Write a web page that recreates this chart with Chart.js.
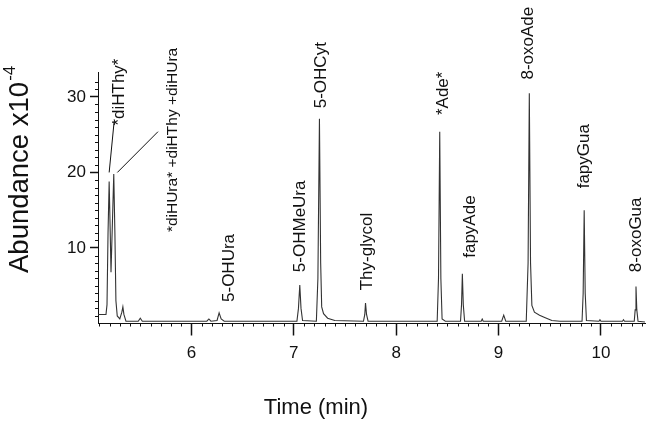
<!DOCTYPE html>
<html>
<head>
<meta charset="utf-8">
<script src="https://cdn.jsdelivr.net/npm/chart.js@4"></script>
<style>
  body { margin: 0; background: #fff; }
  canvas { display: block; }
</style>
</head>
<body>
<canvas id="grafico" width="647" height="427"></canvas>
<script>
// chromatogram trace (time in min, abundance x10^-4)
const tempos = [
  5.087, 5.165, 5.175, 5.185, 5.196, 5.205, 5.214, 5.225, 5.241, 5.252, 5.262, 5.275,
  5.30, 5.32, 5.33, 5.34, 5.36, 5.48, 5.50, 5.52, 5.80, 6.00, 6.15, 6.17, 6.19,
  6.25, 6.27, 6.29, 6.32, 6.70, 7.03, 7.045, 7.058, 7.07, 7.085,
  7.22, 7.235, 7.25, 7.262, 7.272, 7.29, 7.33, 7.40,
  7.68, 7.693, 7.70, 7.71, 7.725, 8.40, 8.413, 8.425, 8.436, 8.448, 8.48,
  8.628, 8.638, 8.646, 8.655, 8.668, 8.83, 8.84, 8.85, 9.03, 9.05, 9.07,
  9.27, 9.288, 9.30, 9.312, 9.325, 9.35, 9.40, 9.45, 9.52, 9.60,
  9.815, 9.826, 9.836, 9.846, 9.858, 9.98, 9.99, 10.00, 10.21, 10.22, 10.23,
  10.325, 10.334, 10.342, 10.35, 10.362, 10.43
];
const abundancia = [
  1.2, 1.2, 2.5, 12, 18.8, 13, 6.8, 12, 19.8, 12, 3, 1.0,
  0.6, 1.5, 2.2, 1.2, 0.3, 0.3, 0.7, 0.3, 0.3, 0.3, 0.3, 0.6, 0.3,
  0.4, 1.4, 0.6, 0.3, 0.3, 0.3, 2.0, 5.1, 2.0, 0.4,
  0.3, 6, 27.1, 8, 2.2, 1.3, 0.7, 0.4,
  0.3, 1.2, 2.7, 1.2, 0.3, 0.3, 6, 25.4, 6, 0.6, 0.3,
  0.3, 2.5, 6.6, 2.5, 0.3, 0.3, 0.6, 0.3, 0.3, 1.1, 0.3,
  0.3, 8, 30.5, 8, 2.4, 1.5, 1.1, 0.8, 0.4, 0.3,
  0.3, 4, 15.0, 4, 0.4, 0.3, 0.5, 0.3, 0.3, 0.5, 0.3,
  0.3, 1.8, 4.9, 1.8, 0.3, 0.2
];
const ticksX = [6, 7, 8, 9, 10];
const ticksY = [10, 20, 30];

// peak names: text, time, abundance where the text starts
const picos = [
  { texto: '*diHThy*', t: 5.296, y: 26.2 },
  { texto: '*diHUra* +diHThy +diHUra', t: 5.812, y: 12.1, pequeno: true },
  { texto: '5-OHUra', t: 6.367, y: 2.85 },
  { texto: '5-OHMeUra', t: 7.062, y: 6.8 },
  { texto: '5-OHCyt', t: 7.27, y: 28.5 },
  { texto: 'Thy-glycol', t: 7.716, y: 4.4 },
  { texto: '*Ade*', t: 8.46, y: 27.6 },
  { texto: 'fapyAde', t: 8.728, y: 8.7 },
  { texto: '8-oxoAde', t: 9.294, y: 32.3 },
  { texto: 'fapyGua', t: 9.839, y: 17.9 },
  { texto: '8-oxoGua', t: 10.345, y: 6.8 }
];
// leader lines for the first two peaks
const linhas = [
  [5.245, 26.8, 5.196, 20.0],
  [5.673, 25.4, 5.276, 20.0]
];

const fonte = '"Liberation Sans", Arial, sans-serif';
const pontos = tempos.map((t, i) => ({ x: t, y: abundancia[i] }));

const anotacoes = {
  id: 'anotacoes',
  afterDraw(chart) {
    const c = chart.ctx;
    const sx = chart.scales.x, sy = chart.scales.y;
    const area = chart.chartArea;
    c.save();
    c.strokeStyle = '#111';
    c.lineWidth = 1;

    // minor ticks
    c.beginPath();
    for (let v = 5.1; v < 10.43; v += 0.1) {
      if (Math.abs(v - Math.round(v)) < 0.01) continue;
      const px = Math.round(sx.getPixelForValue(v)) + 0.5;
      c.moveTo(px, area.bottom);
      c.lineTo(px, area.bottom + 3);
    }
    for (let v = 1; v < 33; v++) {
      if (v % 10 === 0) continue;
      const py = Math.round(sy.getPixelForValue(v)) + 0.5;
      c.moveTo(area.left, py);
      c.lineTo(area.left - 3, py);
    }
    c.stroke();

    // leader lines
    c.beginPath();
    linhas.forEach(l => {
      c.moveTo(sx.getPixelForValue(l[0]), sy.getPixelForValue(l[1]));
      c.lineTo(sx.getPixelForValue(l[2]), sy.getPixelForValue(l[3]));
    });
    c.stroke();

    // peak labels, rotated
    c.fillStyle = '#111';
    c.textAlign = 'left';
    c.textBaseline = 'middle';
    picos.forEach(p => {
      c.save();
      c.translate(sx.getPixelForValue(p.t), sy.getPixelForValue(p.y));
      c.rotate(-Math.PI / 2);
      c.font = (p.pequeno ? '15.5px ' : '17px ') + fonte;
      c.fillText(p.texto, 0, 0);
      c.restore();
    });

    // axis titles
    c.save();
    c.translate(20, 273);
    c.rotate(-Math.PI / 2);
    c.textBaseline = 'middle';
    c.font = '27.5px ' + fonte;
    c.fillText('Abundance x10', 0, 0);
    const w = c.measureText('Abundance x10').width;
    c.font = '17px ' + fonte;
    c.fillText('-4', w + 1, -10);
    c.restore();

    c.font = '22px ' + fonte;
    c.textAlign = 'center';
    c.fillText('Time (min)', 316, 408);
    c.restore();
  }
};

new Chart(document.getElementById('grafico'), {
  type: 'line',
  data: {
    datasets: [{
      data: pontos,
      borderColor: '#333',
      borderWidth: 1.1,
      pointRadius: 0,
      tension: 0,
      fill: false
    }]
  },
  options: {
    responsive: false,
    animation: false,
    devicePixelRatio: 1,
    layout: { padding: { top: 72, right: 2, left: 0, bottom: 0 } },
    plugins: { legend: { display: false }, tooltip: { enabled: false } },
    scales: {
      x: {
        type: 'linear',
        min: 5.087,
        max: 10.43,
        afterBuildTicks: s => { s.ticks = ticksX.map(v => ({ value: v })); },
        afterFit: s => { s.height = 103.5; },
        border: { display: true, color: '#111', width: 1 },
        grid: { drawOnChartArea: false, drawTicks: true, tickLength: 12, tickColor: '#111', tickWidth: 1.5 },
        ticks: { color: '#111', font: { size: 17, family: fonte }, padding: 8, maxRotation: 0 }
      },
      y: {
        min: 0,
        max: 33.3,
        afterBuildTicks: s => { s.ticks = ticksY.map(v => ({ value: v })); },
        afterFit: s => { s.width = 98; },
        border: { display: true, color: '#111', width: 1 },
        grid: { drawOnChartArea: false, drawTicks: true, tickLength: 8, tickColor: '#111', tickWidth: 1.5 },
        ticks: { color: '#111', font: { size: 17, family: fonte }, padding: 4 }
      }
    }
  },
  plugins: [anotacoes]
});
</script>
</body>
</html>
